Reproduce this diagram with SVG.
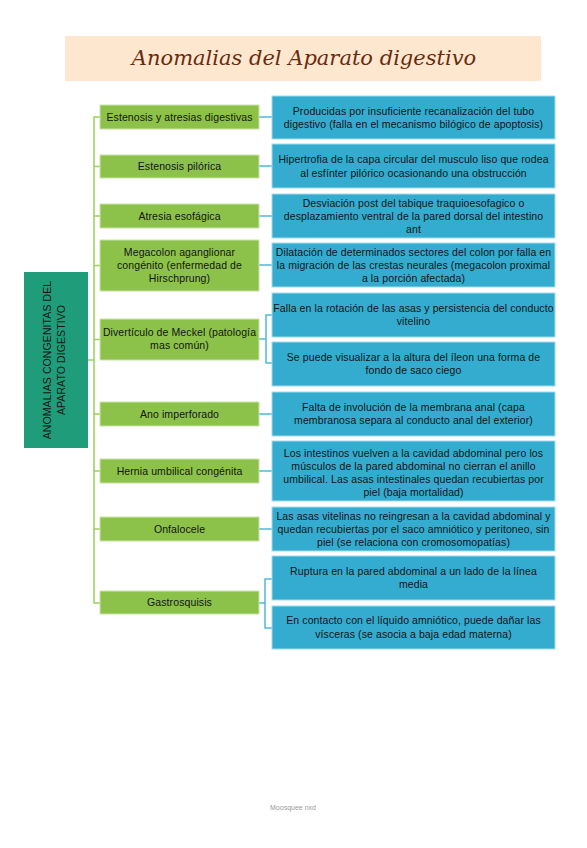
<svg xmlns="http://www.w3.org/2000/svg" width="587" height="848" viewBox="0 0 587 848">
<style>
.bg{fill:#ffffff}
.g rect{fill:#8CC24A;stroke:#C9E4A8;stroke-width:1}
.b rect{fill:#33ACD0;stroke:#A6DAEB;stroke-width:1}
.t{font-family:"Liberation Sans","Open Sans",sans-serif;font-size:10.5px;letter-spacing:0.1px;fill:#141414;text-anchor:middle}
.gl{fill:none;stroke:#9BD05A;stroke-width:1.5}
.bl{fill:none;stroke:#4FB8DD;stroke-width:1.5}
</style>
<rect class="bg" x="0" y="0" width="587" height="848"/>
<g id="title">
<rect x="65" y="36" width="476" height="45" fill="#FDE8CF"/>
<text x="304" y="65" font-family="DejaVu Serif, serif" font-style="italic" font-size="21" fill="#6A2B10" text-anchor="middle">Anomalias del Aparato digestivo</text>
</g>
<g id="connectors">
<path class="gl" d="M88,360 H94 M100,117 H94 V603 H100 M94,166.5 H100 M94,216 H100 M94,265.5 H100 M94,339.5 H100 M94,414 H100 M94,471 H100 M94,529 H100"/>
<path class="bl" d="M259,117 H272 M259,166 H272 M259,216 H272 M259,265 H272 M259,339 H266 M272,315 H266 V363 H272 M259,414 H272 M259,471 H272 M259,529 H272 M259,603 H265 M272,579 H265 V628 H272"/>
</g>
<g id="root">
<rect x="24" y="272" width="64" height="176" fill="#1F9D7A"/>
<text class="t" transform="translate(51,360) rotate(-90)" fill="#0E2E25" letter-spacing="0.6">ANOMALIAS CONGENITAS DEL</text>
<text class="t" transform="translate(65,360) rotate(-90)" fill="#0E2E25" letter-spacing="0.6">APARATO DIGESTIVO</text>
</g>
<g id="n1" class="g"><rect x="100" y="105" width="159" height="24"/><text class="t" x="179.5" y="120.5">Estenosis y atresias digestivas</text></g>
<g id="n2" class="g"><rect x="100" y="155" width="159" height="23"/><text class="t" x="179.5" y="170">Estenosis pilórica</text></g>
<g id="n3" class="g"><rect x="100" y="204" width="159" height="24"/><text class="t" x="179.5" y="219.5">Atresia esofágica</text></g>
<g id="n4" class="g"><rect x="100" y="240" width="159" height="51"/><text class="t" x="179.5" y="255.5">Megacolon aganglionar</text><text class="t" x="179.5" y="268.5">congénito (enfermedad de</text><text class="t" x="179.5" y="281.5">Hirschprung)</text></g>
<g id="n5" class="g"><rect x="100" y="319" width="159" height="41"/><text class="t" x="179.5" y="336">Divertículo de Meckel (patología</text><text class="t" x="179.5" y="349">mas común)</text></g>
<g id="n6" class="g"><rect x="100" y="402" width="159" height="24"/><text class="t" x="179.5" y="417.5">Ano imperforado</text></g>
<g id="n7" class="g"><rect x="100" y="459" width="159" height="24"/><text class="t" x="179.5" y="474.5">Hernia umbilical congénita</text></g>
<g id="n8" class="g"><rect x="100" y="517" width="159" height="24"/><text class="t" x="179.5" y="532.5">Onfalocele</text></g>
<g id="n9" class="g"><rect x="100" y="591" width="159" height="23"/><text class="t" x="179.5" y="606">Gastrosquisis</text></g>
<g id="d1" class="b"><rect x="272" y="96" width="283" height="43"/><text class="t" x="413.5" y="114.5">Producidas por insuficiente recanalización del tubo</text><text class="t" x="413.5" y="128">digestivo (falla en el mecanismo bilógico de apoptosis)</text></g>
<g id="d2" class="b"><rect x="272" y="144" width="283" height="44"/><text class="t" x="413.5" y="163">Hipertrofia de la capa circular del musculo liso que rodea</text><text class="t" x="413.5" y="176.5">al esfínter pilórico ocasionando una obstrucción</text></g>
<g id="d3" class="b"><rect x="272" y="194" width="283" height="44"/><text class="t" x="413.5" y="206.5">Desviación post del tabique traquioesofagico o</text><text class="t" x="413.5" y="219.5">desplazamiento ventral de la pared dorsal del intestino</text><text class="t" x="413.5" y="232.5">ant</text></g>
<g id="d4" class="b"><rect x="272" y="243" width="283" height="44"/><text class="t" x="413.5" y="255.5">Dilatación de determinados sectores del colon por falla en</text><text class="t" x="413.5" y="268.5">la migración de las crestas neurales (megacolon proximal</text><text class="t" x="413.5" y="281.5">a la porción afectada)</text></g>
<g id="d5" class="b"><rect x="272" y="293" width="283" height="44"/><text class="t" x="413.5" y="311.5">Falla en la rotación de las asas y persistencia del conducto</text><text class="t" x="413.5" y="325">vitelino</text></g>
<g id="d6" class="b"><rect x="272" y="342" width="283" height="44"/><text class="t" x="413.5" y="360.5">Se puede visualizar a la altura del íleon una forma de</text><text class="t" x="413.5" y="374">fondo de saco ciego</text></g>
<g id="d7" class="b"><rect x="272" y="392" width="283" height="44"/><text class="t" x="413.5" y="410.5">Falta de involución de la membrana anal (capa</text><text class="t" x="413.5" y="424">membranosa separa al conducto anal del exterior)</text></g>
<g id="d8" class="b"><rect x="272" y="441" width="283" height="60"/><text class="t" x="413.5" y="456.5">Los intestinos vuelven a la cavidad abdominal pero los</text><text class="t" x="413.5" y="469.5">músculos de la pared abdominal no cierran el anillo</text><text class="t" x="413.5" y="482.5">umbilical. Las asas intestinales quedan recubiertas por</text><text class="t" x="413.5" y="495.5">piel (baja mortalidad)</text></g>
<g id="d9" class="b"><rect x="272" y="507" width="283" height="44"/><text class="t" x="413.5" y="519.5">Las asas vitelinas no reingresan a la cavidad abdominal y</text><text class="t" x="413.5" y="532.5">quedan recubiertas por el saco amniótico y peritoneo, sin</text><text class="t" x="413.5" y="545.5">piel (se relaciona con cromosomopatías)</text></g>
<g id="d10" class="b"><rect x="272" y="556" width="283" height="44"/><text class="t" x="413.5" y="574.5">Ruptura en la pared abdominal a un lado de la línea</text><text class="t" x="413.5" y="588">media</text></g>
<g id="d11" class="b"><rect x="272" y="606" width="283" height="43"/><text class="t" x="413.5" y="624">En contacto con el líquido amniótico, puede dañar las</text><text class="t" x="413.5" y="637.5">vísceras (se asocia a baja edad materna)</text></g>
<text x="293" y="810" font-family="Liberation Sans, sans-serif" font-size="7" fill="#9a9a9a" text-anchor="middle">Moosquee nxd</text>
</svg>
